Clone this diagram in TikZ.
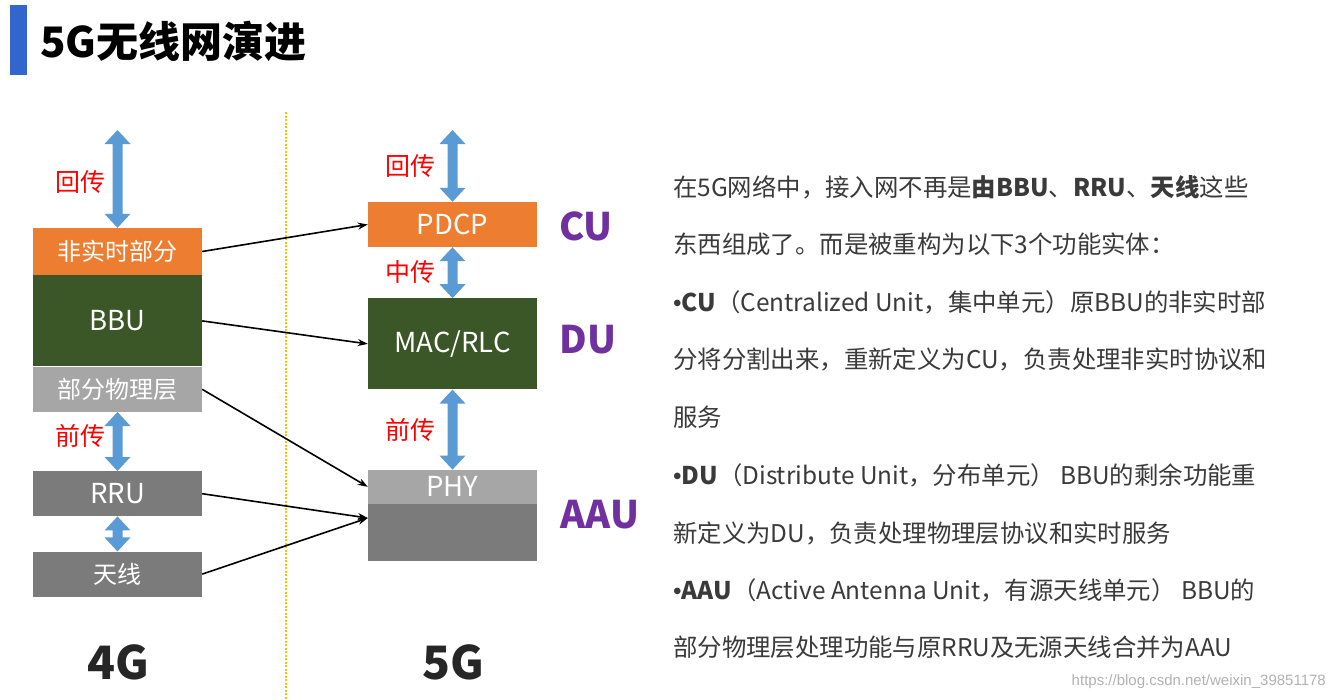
\documentclass[tikz,border=0pt]{standalone}
\usepackage{fontspec}
\setmainfont{Noto Sans CJK SC}
\newfontfamily\urlfont{Liberation Sans}
\usepackage{tikz}
\usetikzlibrary{arrows.meta, positioning, calc}
\definecolor{titleblue}{HTML}{3366CC}
\definecolor{boxorange}{HTML}{ED7D31}
\definecolor{boxgreen}{HTML}{3B5727}
\definecolor{boxlight}{HTML}{A6A6A6}
\definecolor{boxdark}{HTML}{7B7B7B}
\definecolor{pipeblue}{HTML}{5B9BD5}
\definecolor{unitpurple}{HTML}{7030A0}
\definecolor{bodygray}{HTML}{3A3A3A}
\definecolor{gengray}{HTML}{262626}
\definecolor{sepyellow}{HTML}{FFC000}
\tikzstyle{layer} = [rectangle, minimum width=169pt, inner sep=0pt, text=white, font=\fontsize{24}{28}\selectfont]
\tikzstyle{latin} = [font=\fontsize{27.5}{30}\selectfont]
\tikzstyle{link} = [line width=1.6pt, -{Stealth[length=10pt, width=7pt]}]
\tikzstyle{hop} = [text=red, font=\fontsize{25}{30}\selectfont]
\tikzstyle{unit} = [text=unitpurple, font=\fontsize{38}{44}\selectfont\bfseries]
\tikzstyle{gen} = [text=gengray, font=\fontsize{46}{52}\selectfont\bfseries]
\tikzstyle{para} = [anchor=base west, inner sep=0pt, text=bodygray, font=\fontsize{24.4}{28}\selectfont]
\newcommand{\dotitem}{{\urlfont •}}
% fat two-headed pipe between two points (vertical)
\newcommand{\bipipe}[2]{%
  \fill[pipeblue] let \p1=(#1), \p2=(#2) in
    (\x1,\y1) -- (\x1+13pt,\y1-14pt) -- (\x1+5pt,\y1-14pt) -- (\x1+5pt,\y2+14pt)
    -- (\x1+13pt,\y2+14pt) -- (\x1,\y2) -- (\x1-13pt,\y2+14pt) -- (\x1-5pt,\y2+14pt)
    -- (\x1-5pt,\y1-14pt) -- (\x1-13pt,\y1-14pt) -- cycle;}

\begin{document}
\begin{tikzpicture}[x=1pt, y=-1pt]
\fill[white] (0,0) rectangle (1329,699);
\useasboundingbox (0,0) rectangle (1329,699);

% title
\fill[titleblue] (10,5) rectangle (27,75);
\node (title) [anchor=west, inner sep=0pt, font=\fontsize{42}{46}\selectfont\bfseries] at (40,41) {5G无线网演进};

% separator
\draw[sepyellow, line width=1.5pt, dash pattern=on 2pt off 1.5pt] (286,112) -- (286,699);

% 4G side
\node (nonrt) [layer, fill=boxorange, minimum height=47pt] at (117.5,251.5) {非实时部分};
\node (bbu) [layer, latin, fill=boxgreen, minimum height=91pt, below=0pt of nonrt] {BBU};
\node (phys) [layer, fill=boxlight, minimum height=45pt, below=0pt of bbu] {部分物理层};
\node (rru) [layer, latin, fill=boxdark, minimum height=45pt, below=59pt of phys] {RRU};
\node (ant) [layer, fill=boxdark, minimum height=45pt, below=35pt of rru] {天线};
\coordinate (bh4top) at (117.5,130);
\node (bh4) [hop] at (80,182) {回传};
\node (fh4) [hop] at (80,436) {前传};
\node (g4) [gen] at (118,662) {4G};

% 5G side
\node (pdcp) [layer, latin, fill=boxorange, minimum height=45pt] at (452.5,224.5) {PDCP};
\node (mac) [layer, latin, fill=boxgreen, minimum height=91pt, below=51pt of pdcp] {MAC/RLC};
\node (phy) [layer, latin, fill=boxlight, minimum height=34pt, below=80pt of mac] {PHY};
\node (aau) [layer, fill=boxdark, minimum height=57pt, below=0pt of phy] {};
\coordinate (bh5top) at (452.5,130);
\coordinate (aauin) at ([yshift=-14pt]aau.north west);
\node (bh5) [hop] at (410,166) {回传};
\node (mh5) [hop] at (410,272) {中传};
\node (fh5) [hop] at (410,430) {前传};
\node (cu) [unit] at (586,226) {CU};
\node (du) [unit] at (588,340) {DU};
\node (aaulbl) [unit] at (600,515) {AAU};
\node (g5) [gen] at (453,662) {5G};

% pipes
\bipipe{bh4top}{nonrt.north}
\bipipe{phys.south}{rru.north}
\bipipe{rru.south}{ant.north}
\bipipe{bh5top}{pdcp.north}
\bipipe{pdcp.south}{mac.north}
\bipipe{mac.south}{phy.north}

% mapping 4G -> 5G
\draw[link] (nonrt.east) -- (pdcp.west);
\draw[link] (bbu.east) -- (mac.west);
\draw[link] (phys.east) -- (phy.west);
\draw[link] (rru.east) -- (aauin);
\draw[link] (ant.east) -- (aauin);

% explanation
\node (para1) [para] at (673,196) {在5G网络中，接入网不再是\textbf{由BBU}、\textbf{RRU}、\textbf{天线}这些};
\node (para2) [para] at (673,253.5) {东西组成了。而是被重构为以下3个功能实体：};
\node (para3) [para] at (673,311) {\dotitem\textbf{CU}（Centralized Unit，集中单元）原BBU的非实时部};
\node (para4) [para] at (673,368) {分将分割出来，重新定义为CU，负责处理非实时协议和};
\node (para5) [para] at (673,426) {服务};
\node (para6) [para] at (673,484) {\dotitem\textbf{DU}（Distribute Unit，分布单元） BBU的剩余功能重};
\node (para7) [para] at (673,542) {新定义为DU，负责处理物理层协议和实时服务};
\node (para8) [para] at (673,599) {\dotitem\textbf{AAU}（Active Antenna Unit，有源天线单元） BBU的};
\node (para9) [para] at (673,656) {部分物理层处理功能与原RRU及无源天线合并为AAU};

\node (mark) [anchor=east, inner sep=0pt, text=black!30, font=\urlfont\fontsize{15}{18}\selectfont] at (1326,682) {https://blog.csdn.net/weixin\_39851178};
\end{tikzpicture}
\end{document}
